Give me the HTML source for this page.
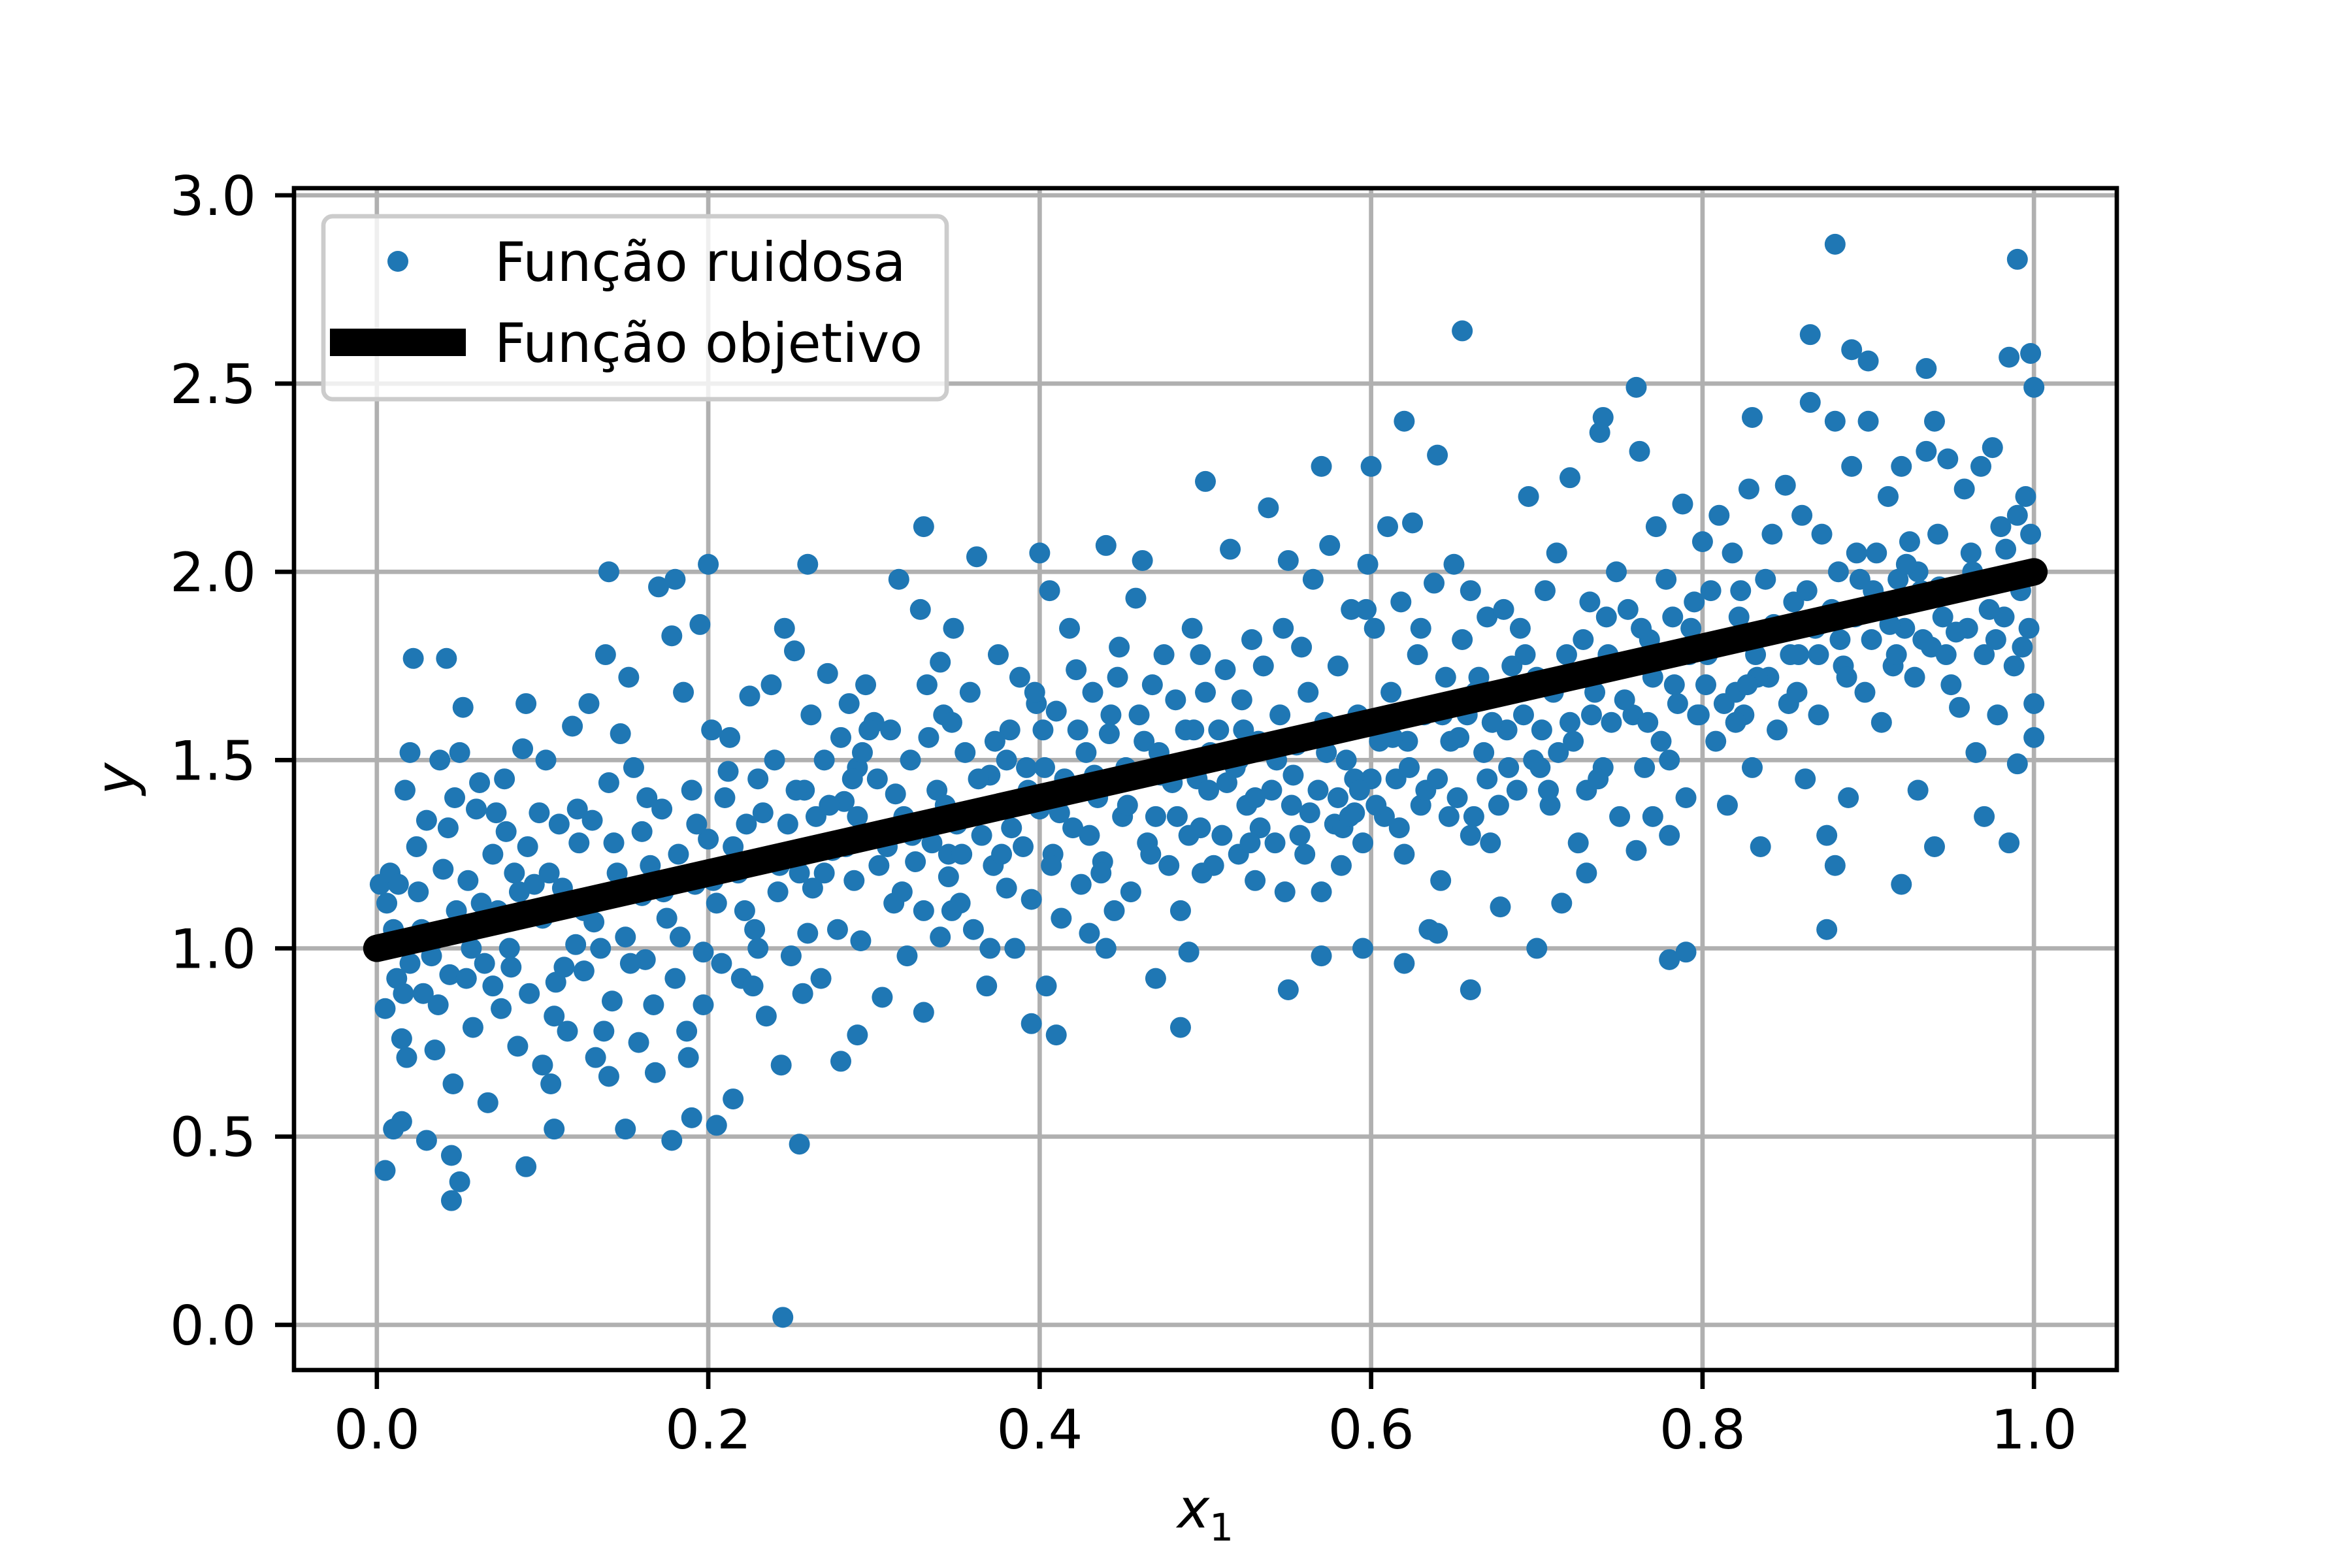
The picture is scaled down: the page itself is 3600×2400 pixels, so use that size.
<!DOCTYPE html>
<html><head><meta charset="utf-8"><style>
html,body{margin:0;padding:0;background:#fff}
svg{display:block}
text{font-family:"DejaVu Sans","Liberation Sans",sans-serif;fill:#000}
</style></head><body>
<svg id="chart" width="3600" height="2400" viewBox="0 0 3600 2400" xmlns="http://www.w3.org/2000/svg">
<rect x="0" y="0" width="3600" height="2400" fill="#fff"/>
<g id="grid"></g>
<g id="marks"></g>
<g id="axes"></g>
<g id="legend"></g>
</svg>
<script>
const xTicks = [0.0, 0.2, 0.4, 0.6, 0.8, 1.0];
const xTickLabels = ["0.0","0.2","0.4","0.6","0.8","1.0"];
const yTicks = [0.0, 0.5, 1.0, 1.5, 2.0, 2.5, 3.0];
const yTickLabels = ["0.0","0.5","1.0","1.5","2.0","2.5","3.0"];
const lineX = [0, 1];
const lineY = [1, 2];
const noisyPoints = [
[0.245,0.02],[0.88,2.87],[0.99,2.83],[0.655,2.64],[0.005,0.41],[0.045,0.33],[0.05,0.38],[0.045,0.45],[0.09,0.42],[0.255,0.48],[0.19,0.55],[0.205,0.53],[0.015,0.54],[0.14,2.0],[0.2,2.02],[0.26,2.02],[0.33,2.12],[0.5,2.24],[0.875,1.05],[0.92,1.17],[0.78,0.97],[0.79,0.99],[0.55,0.89],[0.66,0.89],[0.595,1.0],[0.7,1.0],[0.485,0.79],[0.41,0.77],[0.395,0.8],[0.29,0.77],[0.28,0.7],[0.865,2.63],[0.985,2.57],[0.998,2.58],[0.935,2.54],[0.89,2.59],[0.9,2.56],[1.0,2.49],[0.76,2.49],[0.74,2.41],[0.62,2.4],[0.64,2.31],[0.57,2.28],[0.6,2.28],
[0.002,1.17],[0.005,0.84],[0.008,1.2],[0.01,1.05],[0.012,0.92],[0.015,0.76],[0.018,0.71],[0.02,1.52],[0.022,1.77],[0.025,1.15],[0.028,0.88],[0.03,1.34],[0.033,0.98],[0.035,0.73],[0.038,1.5],[0.04,1.21],[0.042,1.77],[0.044,0.93],[0.046,0.64],[0.048,1.1],[0.05,1.52],[0.003,1.0],[0.013,1.17],[0.027,1.05],[0.037,0.85],[0.03,0.49],[0.02,0.96],[0.01,0.52],
[0.052,1.64],[0.055,1.18],[0.058,0.79],[0.06,1.37],[0.062,1.44],[0.065,0.96],[0.067,0.59],[0.07,1.25],[0.073,1.1],[0.075,0.84],[0.078,1.31],[0.08,1.0],[0.083,1.2],[0.085,0.74],[0.088,1.53],[0.09,1.65],[0.092,0.88],[0.095,1.17],[0.098,1.36],[0.1,1.08],[0.1,0.69],[0.057,1.0],[0.07,0.9],[0.086,1.15],
[0.102,1.5],[0.105,0.64],[0.108,0.91],[0.11,1.33],[0.112,1.16],[0.115,0.78],[0.118,1.59],[0.12,1.01],[0.122,1.28],[0.125,0.94],[0.128,1.65],[0.13,1.34],[0.132,0.71],[0.135,1.0],[0.138,1.78],[0.14,1.44],[0.142,0.86],[0.145,1.2],[0.147,1.57],[0.15,1.03],[0.15,0.52],[0.107,0.52],[0.125,1.1],[0.14,0.66],
[0.152,1.72],[0.155,1.48],[0.158,0.75],[0.16,1.31],[0.162,0.97],[0.165,1.22],[0.168,0.67],[0.17,1.96],[0.172,1.37],[0.175,1.08],[0.178,1.83],[0.18,0.92],[0.182,1.25],[0.185,1.68],[0.187,0.78],[0.19,1.42],[0.192,1.17],[0.195,1.86],[0.197,0.99],[0.2,1.29],[0.178,0.49],[0.18,1.98],[0.188,0.71],[0.16,1.14],
[0.202,1.58],[0.205,1.12],[0.208,0.96],[0.21,1.4],[0.213,1.56],[0.215,1.27],[0.218,1.2],[0.22,0.92],[0.223,1.33],[0.225,1.67],[0.228,1.05],[0.23,1.45],[0.232,1.24],[0.235,0.82],[0.238,1.7],[0.24,1.5],[0.242,1.15],[0.244,0.69],[0.246,1.85],[0.248,1.33],[0.25,0.98],[0.252,1.79],[0.23,1.0],[0.215,0.6],
[0.255,1.2],[0.258,1.42],[0.26,1.04],[0.262,1.62],[0.265,1.35],[0.268,0.92],[0.27,1.5],[0.272,1.73],[0.275,1.26],[0.278,1.05],[0.28,1.56],[0.282,1.39],[0.285,1.65],[0.288,1.18],[0.29,1.48],[0.292,1.02],[0.295,1.7],[0.298,1.3],[0.3,1.6],[0.27,1.2],[0.29,1.35],
[0.302,1.45],[0.305,0.87],[0.308,1.27],[0.31,1.58],[0.312,1.12],[0.315,1.98],[0.318,1.35],[0.32,0.98],[0.322,1.5],[0.325,1.23],[0.328,1.9],[0.33,1.1],[0.332,1.7],[0.335,1.28],[0.338,1.42],[0.34,1.03],[0.342,1.62],[0.345,1.19],[0.348,1.85],[0.35,1.33],[0.33,0.83],[0.34,1.76],[0.345,1.25],
[0.352,1.12],[0.355,1.52],[0.358,1.68],[0.36,1.05],[0.362,2.04],[0.365,1.3],[0.368,0.9],[0.37,1.46],[0.372,1.22],[0.375,1.78],[0.378,1.38],[0.38,1.16],[0.382,1.58],[0.385,1.0],[0.388,1.72],[0.39,1.27],[0.392,1.48],[0.395,1.13],[0.398,1.65],[0.4,1.37],[0.37,1.0],[0.38,1.5],
[0.402,1.58],[0.404,0.9],[0.406,1.95],[0.408,1.25],[0.41,1.63],[0.413,1.08],[0.415,1.45],[0.418,1.85],[0.42,1.32],[0.422,1.74],[0.425,1.17],[0.428,1.52],[0.43,1.04],[0.432,1.68],[0.435,1.4],[0.438,1.23],[0.44,2.07],[0.442,1.57],[0.445,1.1],[0.448,1.8],[0.45,1.35],[0.4,2.05],[0.43,1.3],[0.44,1.0],
[0.452,1.48],[0.455,1.15],[0.458,1.93],[0.46,1.62],[0.462,2.03],[0.465,1.28],[0.468,1.7],[0.47,0.92],[0.472,1.52],[0.475,1.78],[0.478,1.22],[0.48,1.44],[0.482,1.66],[0.485,1.1],[0.488,1.58],[0.49,1.3],[0.492,1.85],[0.495,1.45],[0.498,1.2],[0.5,1.68],[0.47,1.35],[0.49,0.99],
[0.502,1.42],[0.505,1.22],[0.508,1.58],[0.51,1.3],[0.512,1.74],[0.515,2.06],[0.518,1.48],[0.52,1.25],[0.522,1.66],[0.525,1.38],[0.528,1.82],[0.53,1.18],[0.532,1.55],[0.535,1.75],[0.538,2.17],[0.54,1.42],[0.542,1.28],[0.545,1.62],[0.548,1.15],[0.55,2.03],[0.52,1.5],[0.53,1.4],
[0.552,1.38],[0.555,1.54],[0.558,1.8],[0.56,1.25],[0.562,1.68],[0.565,1.98],[0.568,1.42],[0.57,1.15],[0.572,1.6],[0.575,2.07],[0.578,1.33],[0.58,1.75],[0.582,1.22],[0.585,1.5],[0.588,1.9],[0.59,1.36],[0.592,1.62],[0.595,1.28],[0.598,2.02],[0.6,1.45],[0.57,0.98],[0.59,1.45],[0.58,1.4],
[0.602,1.85],[0.605,1.55],[0.608,1.35],[0.61,2.12],[0.612,1.68],[0.615,1.45],[0.618,1.92],[0.62,1.25],[0.622,1.55],[0.625,2.13],[0.628,1.78],[0.63,1.38],[0.632,1.62],[0.635,1.05],[0.638,1.97],[0.64,1.45],[0.642,1.18],[0.645,1.72],[0.648,1.55],[0.65,2.02],[0.62,0.96],[0.64,1.04],[0.63,1.85],
[0.652,1.4],[0.655,1.82],[0.658,1.62],[0.66,1.95],[0.662,1.35],[0.665,1.72],[0.668,1.52],[0.67,1.88],[0.672,1.28],[0.675,1.68],[0.678,1.11],[0.68,1.9],[0.682,1.58],[0.685,1.75],[0.688,1.42],[0.69,1.85],[0.692,1.62],[0.695,2.2],[0.698,1.5],[0.7,1.72],[0.67,1.45],[0.66,1.3],
[0.702,1.48],[0.705,1.95],[0.708,1.38],[0.71,1.68],[0.712,2.05],[0.715,1.12],[0.718,1.78],[0.72,2.25],[0.722,1.55],[0.725,1.28],[0.728,1.82],[0.73,1.42],[0.732,1.92],[0.735,1.68],[0.738,2.37],[0.74,1.48],[0.742,1.88],[0.745,1.6],[0.748,2.0],[0.75,1.35],[0.72,1.6],[0.73,1.2],
[0.752,1.75],[0.755,1.9],[0.758,1.62],[0.76,1.26],[0.762,2.32],[0.765,1.48],[0.768,1.82],[0.77,1.72],[0.772,2.12],[0.775,1.55],[0.778,1.98],[0.78,1.3],[0.782,1.88],[0.785,1.65],[0.788,2.18],[0.79,1.4],[0.792,1.78],[0.795,1.92],[0.798,1.62],[0.8,2.08],[0.78,1.5],[0.77,1.35],
[0.802,1.7],[0.805,1.95],[0.808,1.55],[0.81,2.15],[0.812,1.82],[0.815,1.38],[0.818,2.05],[0.82,1.68],[0.822,1.88],[0.825,1.62],[0.828,2.22],[0.83,1.48],[0.832,1.78],[0.835,1.27],[0.838,1.98],[0.84,1.72],[0.842,2.1],[0.845,1.58],[0.848,1.85],[0.85,2.23],[0.83,2.41],[0.82,1.6],
[0.852,1.65],[0.855,1.92],[0.858,1.78],[0.86,2.15],[0.862,1.45],[0.865,2.45],[0.868,1.85],[0.87,1.62],[0.872,2.1],[0.875,1.3],[0.878,1.9],[0.88,1.22],[0.882,2.0],[0.885,1.75],[0.888,1.4],[0.89,2.28],[0.892,1.88],[0.895,1.98],[0.898,1.68],[0.9,2.4],[0.88,2.4],[0.87,1.78],
[0.902,1.82],[0.905,2.05],[0.908,1.6],[0.91,1.92],[0.912,2.2],[0.915,1.75],[0.918,1.98],[0.92,2.28],[0.922,1.85],[0.925,2.08],[0.928,1.72],[0.93,1.42],[0.932,1.95],[0.935,2.32],[0.938,1.8],[0.94,1.27],[0.942,2.1],[0.945,1.88],[0.948,2.3],[0.95,1.7],[0.93,2.0],[0.94,2.4],
[0.952,1.95],[0.955,1.64],[0.958,2.22],[0.96,1.85],[0.962,2.05],[0.965,1.52],[0.968,2.28],[0.97,1.78],[0.972,1.98],[0.975,2.33],[0.978,1.62],[0.98,2.12],[0.982,1.88],[0.985,1.28],[0.988,1.75],[0.99,2.15],[0.992,1.95],[0.995,2.2],[0.997,1.85],[1.0,1.56],[1.0,1.65],[0.99,1.49],[0.97,1.35],[0.998,2.1],
[0.006,1.12],[0.016,0.88],[0.024,1.27],[0.034,1.02],[0.043,1.32],[0.054,0.92],[0.063,1.12],[0.072,1.36],[0.081,0.95],[0.091,1.27],[0.104,1.2],[0.113,0.95],[0.121,1.37],[0.131,1.07],[0.143,1.28],[0.153,0.96],[0.163,1.4],[0.173,1.15],[0.183,1.03],[0.193,1.33],
[0.203,1.18],[0.212,1.47],[0.222,1.1],[0.233,1.36],[0.243,1.22],[0.253,1.42],[0.263,1.16],[0.273,1.38],[0.283,1.27],[0.293,1.52],[0.303,1.22],[0.313,1.41],[0.323,1.3],[0.333,1.56],[0.343,1.38],[0.353,1.25],[0.363,1.45],[0.373,1.55],[0.383,1.32],[0.393,1.42],
[0.403,1.48],[0.412,1.36],[0.423,1.58],[0.433,1.46],[0.443,1.62],[0.453,1.38],[0.463,1.55],[0.473,1.46],[0.483,1.35],[0.493,1.58],[0.503,1.52],[0.513,1.44],[0.523,1.58],[0.533,1.32],[0.543,1.5],[0.553,1.46],[0.563,1.36],[0.573,1.52],[0.583,1.32],[0.593,1.42],
[0.603,1.38],[0.613,1.56],[0.623,1.48],[0.633,1.42],[0.643,1.62],[0.653,1.56],[0.663,1.68],[0.673,1.6],[0.683,1.48],[0.693,1.78],[0.703,1.58],[0.713,1.52],[0.723,1.72],[0.733,1.62],[0.743,1.78],[0.753,1.66],[0.763,1.85],[0.773,1.78],[0.783,1.7],[0.793,1.85],
[0.803,1.78],[0.813,1.65],[0.823,1.95],[0.833,1.72],[0.843,1.86],[0.853,1.78],[0.863,1.95],[0.873,1.88],[0.883,1.82],[0.893,2.05],[0.903,1.95],[0.913,1.86],[0.923,2.02],[0.933,1.82],[0.943,1.96],[0.953,1.84],[0.963,2.0],[0.973,1.9],[0.983,2.06],[0.993,1.8],
[0.017,1.42],[0.047,1.4],[0.077,1.45],[0.107,0.82],[0.137,0.78],[0.167,0.85],[0.197,0.85],[0.227,0.9],[0.257,0.88],[0.287,1.45],[0.317,1.15],[0.347,1.1],[0.377,1.25],[0.407,1.22],[0.437,1.2],[0.467,1.25],[0.497,1.32],[0.527,1.28],[0.557,1.3],[0.587,1.35],
[0.617,1.32],[0.647,1.35],[0.677,1.38],[0.707,1.42],[0.737,1.45],[0.767,1.6],[0.797,1.62],[0.827,1.7],[0.857,1.68],[0.887,1.72],[0.917,1.78],[0.947,1.78],[0.977,1.82],[0.597,1.9],[0.547,1.85],[0.497,1.78],[0.447,1.72],[0.397,1.68],[0.347,1.6],[0.297,1.58]
];

const NS = "http://www.w3.org/2000/svg";
const AX = {l:450, r:3240, t:288, b:2097, xmin:-0.05, xmax:1.05, ymin:-0.12, ymax:3.019};
function X(v){ return AX.l + (v - AX.xmin)/(AX.xmax - AX.xmin)*(AX.r - AX.l); }
function Y(v){ return AX.b - (v - AX.ymin)/(AX.ymax - AX.ymin)*(AX.b - AX.t); }
function mk(tag, attrs, parent){
  const e = document.createElementNS(NS, tag);
  for (const k in attrs) e.setAttribute(k, attrs[k]);
  parent.appendChild(e);
  return e;
}
const grid = document.getElementById('grid');
const marks = document.getElementById('marks');
const axes = document.getElementById('axes');
const legend = document.getElementById('legend');

xTicks.forEach((v, i) => {
  const g = mk('line', {x1:X(v), x2:X(v), y1:AX.t, y2:AX.b, stroke:'#b0b0b0', 'stroke-width':6.7}, grid);
  
  
  const t = mk('line', {x1:X(v), x2:X(v), y1:AX.b, y2:AX.b+29, stroke:'#000', 'stroke-width':6.7}, axes);
  
  
  const lb = mk('text', {x:X(v), y:AX.b+29+29+62, 'font-size':83, 'text-anchor':'middle'}, axes);
  lb.textContent = xTickLabels[i];
  
  
});
yTicks.forEach((v, i) => {
  const g = mk('line', {x1:AX.l, x2:AX.r, y1:Y(v), y2:Y(v), stroke:'#b0b0b0', 'stroke-width':6.7}, grid);
  
  
  const t = mk('line', {x1:AX.l-29, x2:AX.l, y1:Y(v), y2:Y(v), stroke:'#000', 'stroke-width':6.7}, axes);
  
  
  const lb = mk('text', {x:AX.l-29-29, y:Y(v)+30, 'font-size':83, 'text-anchor':'end'}, axes);
  lb.textContent = yTickLabels[i];
  
  
});

noisyPoints.forEach(p => {
  const c = mk('circle', {cx:X(p[0]), cy:Y(p[1]), r:16, fill:'#1f77b4'}, marks);
  
  
});
const tl = mk('line', {x1:X(lineX[0]), y1:Y(lineY[0]), x2:X(lineX[1]), y2:Y(lineY[1]), stroke:'#000', 'stroke-width':42, 'stroke-linecap':'round'}, marks);



const frame = mk('rect', {x:AX.l, y:AX.t, width:AX.r-AX.l, height:AX.b-AX.t, fill:'none', stroke:'#000', 'stroke-width':6.7}, axes);



const xl = mk('text', {x:(AX.l+AX.r)/2, y:2338, 'font-size':83, 'text-anchor':'middle', 'font-style':'italic'}, axes);


xl.innerHTML = 'x<tspan font-size="58" font-style="normal" dy="20">1</tspan>';
const yl = mk('text', {x:0, y:0, 'font-size':83, 'text-anchor':'middle', 'font-style':'italic', transform:'translate(206 1192) rotate(-90)'}, axes);
yl.textContent = 'y';



const lbox = mk('rect', {x:495, y:331, width:954, height:280, rx:14, fill:'#fff', 'fill-opacity':0.8, stroke:'#cccccc', 'stroke-width':6.7}, legend);


const lm = mk('circle', {cx:609, cy:400, r:16, fill:'#1f77b4'}, legend);


const lt1 = mk('text', {x:757, y:430, 'font-size':83}, legend);
lt1.textContent = 'Função ruidosa';


const ll = mk('line', {x1:505, x2:713, y1:524, y2:524, stroke:'#000', 'stroke-width':42}, legend);


const lt2 = mk('text', {x:757, y:554, 'font-size':83}, legend);
lt2.textContent = 'Função objetivo';


</script>
</body></html>
